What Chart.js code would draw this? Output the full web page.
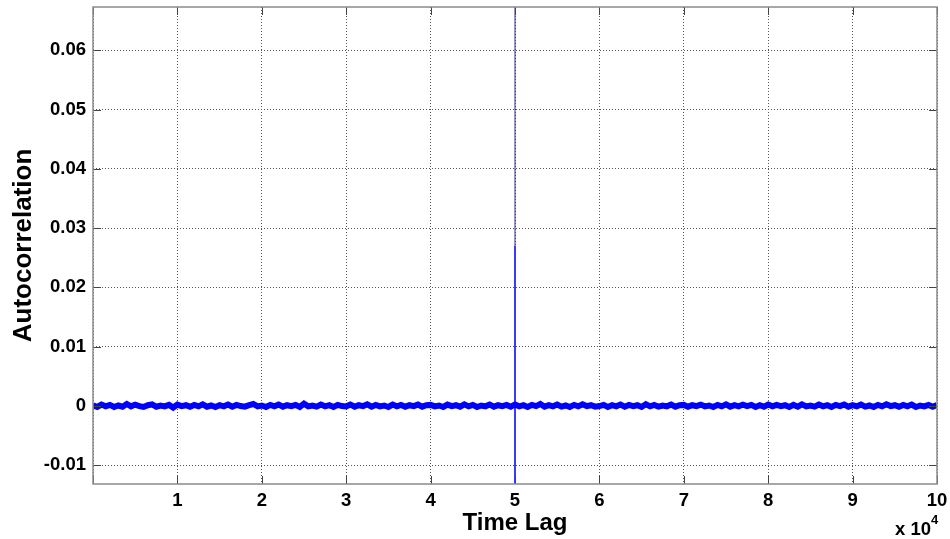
<!DOCTYPE html>
<html>
<head>
<meta charset="utf-8">
<script src="https://cdn.jsdelivr.net/npm/chart.js@4.4.4/dist/chart.umd.min.js"></script>
<style>
  html, body { margin: 0; padding: 0; background: #fff; }
  #wrap { width: 950px; height: 539px; }
</style>
</head>
<body>
<div id="wrap"><canvas id="acfChart" width="950" height="539"></canvas></div>
<script>
// Autocorrelation vs time lag.
// Noise samples are spaced lagStep apart, starting at lag 0.
const lagStep = 500;
const noiseValues = [
  0.0001, -0.0002, 0.0002, -0.0001, 0.00015, -0.0002, 0.00005, -0.00015, 0.0003, -0.0001, 0.0002, -0.00005, -0.0002, 0.0001, 0.00025, -0.00015, 0.00005, -0.0001, 0.00015, -0.0003,
  0.0002, -0.00005, 0.0001, -0.00015, 0.00015, -0.0001, 0.00025, -0.00015, 0.00005, -0.0002, 0.0001, -0.0001, 0.0002, -0.00015, 0.00015, -0.00005, -0.00015, 0.0001, 0.0003, -0.0001,
  0.00005, -0.0002, 0.00015, -0.0001, 0.0002, -0.00015, 0.0001, -0.00005, 0.00015, -0.0002, 0.00035, -0.0001, 0.00005, -0.00015, 0.0002, -0.0001, 0.0001, -0.0002, 0.00015, -0.00005,
  -0.0001, 0.0002, -0.00015, 0.0001, -0.00005, 0.00025, -0.00015, 0.00015, -0.0001, 0.00005, -0.0002, 0.0002, -0.0001, 0.00015, -0.00015, 0.0001, -0.00005, 0.0002, -0.00015, 0.0001,
  0.00015, -0.0001, 0.00005, -0.0002, 0.0002, -0.00005, 0.0001, -0.00015, 0.00025, -0.0001, 0.00015, -0.0002, 0.00005, -0.0001, 0.0002, -0.00015, 0.0001, -0.00005, 0.00015, -0.00015,
  0.0002, -0.0001, 0.0001, -0.0002, 0.00015, -0.00005, 0.0003, -0.00015, 0.0001, -0.0001, 0.0002, -0.00015, 0.00005, -0.0002, 0.00015, -0.0001, 0.00025, -0.00005, 0.0001, -0.00015,
  -0.00005, 0.00015, -0.0002, 0.0001, -0.0001, 0.0002, -0.00015, 0.00015, -0.00005, 0.0001, -0.0002, 0.00025, -0.0001, 0.00015, -0.00015, 0.00005, -0.0001, 0.0002, -0.00015, 0.0001,
  0.00015, -0.00015, 0.0001, -0.00005, 0.0002, -0.0001, 0.00005, -0.0002, 0.00015, -0.0001, 0.00025, -0.00015, 0.0001, -0.0001, 0.0002, -0.00005, 0.00015, -0.0002, 0.0001, -0.00015,
  0.0002, -0.0001, 0.00015, -0.00005, 0.0001, -0.0002, 0.00015, -0.00015, 0.00025, -0.0001, 0.00005, -0.00015, 0.0002, -0.0001, 0.0001, -0.0002, 0.00015, -0.00005, 0.0002, -0.00015,
  0.0001, -0.0001, 0.0002, -0.00015, 0.00005, -0.0002, 0.00015, -0.0001, 0.00025, -0.00005, 0.0001, -0.00015, 0.00015, -0.0001, 0.0002, -0.0002, 0.00005, -0.0001, 0.00015, -0.00015,
  0.0001
];

// Zero-lag spike at the centre (lag 50000): bright lower part, thin part running off the top
const spikeLag = 50000;
const spikeLowValues = [-0.02, 0.027];
const spikeHighValues = [0.027, 1];

const xTickLabels = ['', '1', '2', '3', '4', '5', '6', '7', '8', '9', '10'];
const yTicks = [-0.01, 0, 0.01, 0.02, 0.03, 0.04, 0.05, 0.06];

const FONT = "'Liberation Sans', Arial, sans-serif";

// Inner tick marks on all four sides, MATLAB style, plus box and x10^4 exponent
const boxPlugin = {
  id: 'matlabBox',
  afterDraw(chart) {
    const { ctx, chartArea: a, scales } = chart;
    ctx.save();
    ctx.strokeStyle = '#444';
    ctx.lineWidth = 1;
    const len = 8;
    scales.x.ticks.forEach(t => {
      const px = Math.round(scales.x.getPixelForValue(t.value)) + 0.5;
      ctx.beginPath();
      ctx.moveTo(px, a.bottom); ctx.lineTo(px, a.bottom - len);
      ctx.moveTo(px, a.top); ctx.lineTo(px, a.top + len);
      ctx.stroke();
    });
    scales.y.ticks.forEach(t => {
      const py = Math.round(scales.y.getPixelForValue(t.value)) + 0.5;
      ctx.beginPath();
      ctx.moveTo(a.left, py); ctx.lineTo(a.left + len, py);
      ctx.moveTo(a.right, py); ctx.lineTo(a.right - len, py);
      ctx.stroke();
    });
    ctx.strokeStyle = '#8a8a8a';
    ctx.lineWidth = 1.5;
    ctx.strokeRect(a.left, a.top, a.right - a.left, a.bottom - a.top);

    ctx.fillStyle = '#000';
    ctx.textBaseline = 'alphabetic';
    ctx.textAlign = 'right';
    ctx.font = 'bold 18.5px ' + FONT;
    ctx.fillText('x 10', a.right - 6, 535);
    ctx.font = 'bold 13px ' + FONT;
    ctx.textAlign = 'left';
    ctx.fillText('4', a.right - 6, 524);
    ctx.restore();
  }
};

const noisePoints = noiseValues.map((v, i) => ({ x: i * lagStep, y: v }));

new Chart(document.getElementById('acfChart'), {
  type: 'line',
  data: {
    datasets: [
      {
        label: 'Autocorrelation',
        data: noisePoints,
        borderColor: '#0000ff',
        borderWidth: 6,
        pointRadius: 0,
        tension: 0,
        fill: false
      },
      {
        label: 'Spike',
        data: spikeLowValues.map(v => ({ x: spikeLag, y: v })),
        borderColor: '#3a3aff',
        borderWidth: 2,
        pointRadius: 0,
        fill: false
      },
      {
        label: 'Spike top',
        data: spikeHighValues.map(v => ({ x: spikeLag, y: v })),
        borderColor: 'rgb(45,45,130)',
        borderWidth: 1,
        pointRadius: 0,
        fill: false
      }
    ]
  },
  options: {
    responsive: false,
    animation: false,
    devicePixelRatio: 1,
    layout: { padding: { top: 7, right: 13, left: 0, bottom: 0 } },
    plugins: {
      legend: { display: false },
      tooltip: { enabled: false }
    },
    scales: {
      x: {
        type: 'linear',
        min: 0,
        max: 100000,
        afterFit: s => { s.height = 55; s.paddingLeft = 0; s.paddingRight = 0; },
        ticks: {
          stepSize: 10000,
          autoSkip: false,
          maxRotation: 0,
          padding: 6,
          color: '#000',
          font: { family: FONT, size: 18.5, weight: 'bold' },
          callback: v => xTickLabels[Math.round(v / 10000)]
        },
        grid: { color: '#555', lineWidth: 1, drawTicks: false },
        border: { display: false, dash: [1, 2] },
        title: {
          display: true,
          text: 'Time Lag',
          color: '#000',
          font: { family: FONT, size: 24, weight: 'bold' },
          padding: { top: 0, bottom: 1.6 }
        }
      },
      y: {
        type: 'linear',
        min: -0.0132,
        max: 0.0673,
        afterFit: s => { s.width = 93; s.paddingTop = 0; s.paddingBottom = 0; },
        afterBuildTicks: s => { s.ticks = yTicks.map(v => ({ value: v })); },
        ticks: {
          padding: 7,
          color: '#000',
          font: { family: FONT, size: 18.5, weight: 'bold' },
          callback: v => (v === 0 ? '0' : v.toFixed(2))
        },
        grid: { color: '#555', lineWidth: 1, drawTicks: false },
        border: { display: false, dash: [1, 2] },
        title: {
          display: true,
          text: 'Autocorrelation',
          color: '#000',
          font: { family: FONT, size: 26, weight: 'bold' },
          padding: { top: 8, bottom: 0 }
        }
      }
    }
  },
  plugins: [boxPlugin]
});
</script>
</body>
</html>
